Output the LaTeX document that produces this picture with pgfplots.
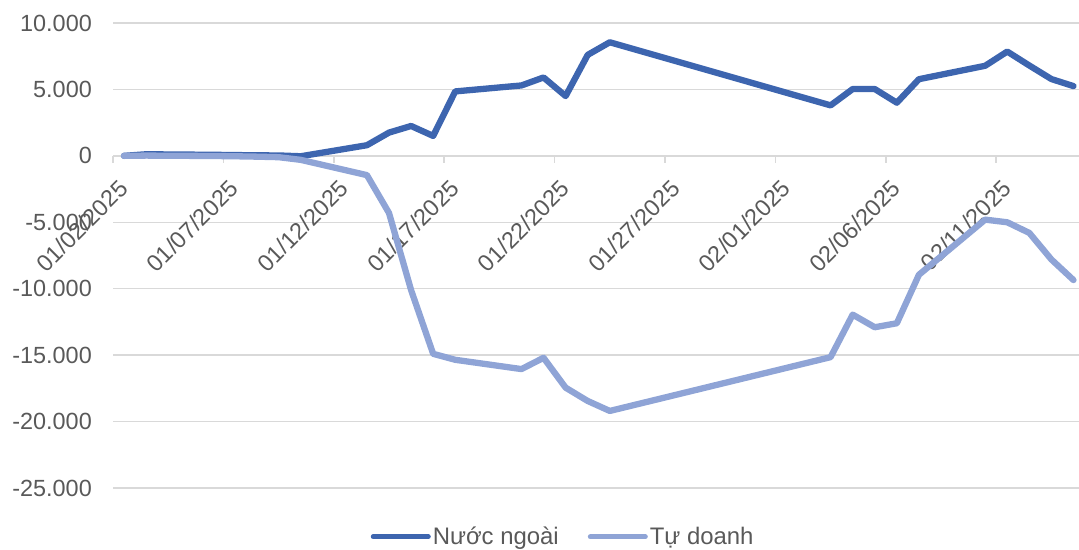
\documentclass[border=0pt]{standalone}
\usepackage{pgfplots}
\pgfplotsset{compat=1.18}
\usepackage{fontspec}
\setmainfont{Liberation Sans}
\definecolor{darkb}{RGB}{61,101,175}
\definecolor{lightb}{RGB}{143,164,214}
\definecolor{gridc}{RGB}{217,217,217}
\definecolor{txt}{RGB}{89,89,89}
\begin{document}
\begin{tikzpicture}
\useasboundingbox (0,0) rectangle (1079bp,550bp);
\begin{axis}[
  anchor=south west, at={(113bp,62bp)},
  scale only axis, width=966bp, height=465bp,
  xmin=-0.5, xmax=43.25, ymin=-25000, ymax=10000,
  clip=false, scaled y ticks=false,
  axis x line=middle, axis y line=left,
  x axis line style={-, draw=gridc, line width=1.5bp},
  y axis line style={draw=none},
  hide obscured x ticks=false, hide obscured y ticks=false,
  font=\fontsize{23.5}{28}\selectfont,
  xtick={-0.5,4.5,9.5,14.5,19.5,24.5,29.5,34.5,39.5},
  xticklabels={01/02/2025,01/07/2025,01/12/2025,01/17/2025,01/22/2025,01/27/2025,02/01/2025,02/06/2025,02/11/2025},
  ytick={-25000,-20000,-15000,-10000,-5000,0,5000,10000},
  yticklabels={-25.000,-20.000,-15.000,-10.000,-5.000,0,5.000,10.000},
  tick align=outside, major tick length=7bp,
  xtick style={draw=gridc, line width=1.5bp},
  ytick style={draw=none},
  ymajorgrids, grid style={draw=gridc, line width=1.5bp},
  xticklabel style={rotate=45, anchor=east, inner sep=0pt, text=txt, xshift=-7.8bp, yshift=-22.6bp},
  yticklabel style={anchor=east, inner sep=0pt, text=txt, xshift=-14bp},
  legend columns=2,
  legend style={at={(0.466,-0.105)}, anchor=center, draw=none, fill=none,
    text=txt, font=\fontsize{24}{28}\selectfont,
    /tikz/every even column/.append style={column sep=27bp},
    inner sep=0pt, nodes={inner sep=2bp}},
  legend image code/.code={\draw[#1, line width=5bp, line cap=round] (0bp,0bp) -- (55bp,0bp);},
]
\addplot[darkb, line width=6.3bp, line join=round, line cap=round] table {
x y
0 0
1 120
4 80
5 60
6 40
7 30
8 -30
11 800
12 1750
13 2250
14 1500
15 4850
18 5300
19 5900
20 4500
21 7600
22 8550
32 3800
33 5030
34 5030
35 4000
36 5770
39 6780
40 7850
41 6800
42 5780
43 5250
};
\addlegendentry{Nước ngoài}
\addplot[lightb, line width=6.3bp, line join=round, line cap=round] table {
x y
0 0
1 20
4 -10
5 -30
6 -60
7 -100
8 -300
11 -1450
12 -4300
13 -10100
14 -14900
15 -15350
18 -16050
19 -15200
20 -17450
21 -18450
22 -19200
32 -15150
33 -11950
34 -12900
35 -12600
36 -8950
39 -4800
40 -5000
41 -5800
42 -7800
43 -9350
};
\addlegendentry{Tự doanh}
\end{axis}
\end{tikzpicture}
\end{document}
